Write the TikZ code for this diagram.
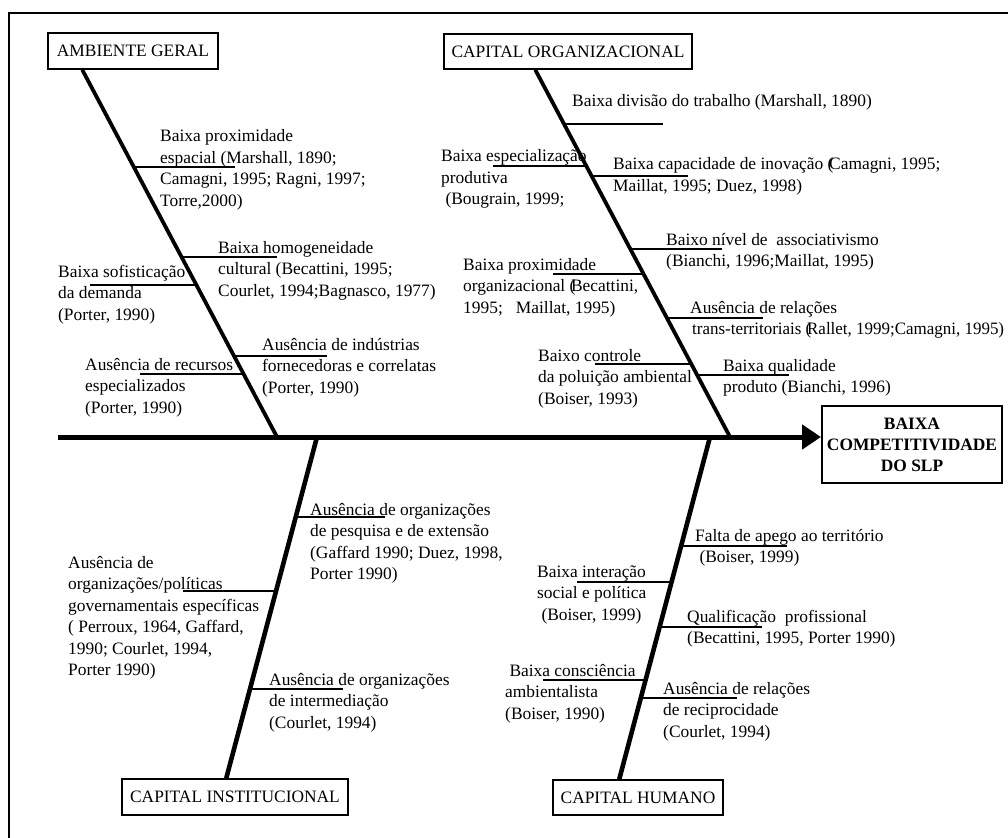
\documentclass[tikz,border=0pt]{standalone}
\usepackage{fontspec}
\usepackage{graphicx}
\setmainfont{Liberation Serif}
\usetikzlibrary{arrows.meta,calc}
\newcommand\mlines[1]{\begin{tabular}[t]{@{}l@{}}#1\end{tabular}}
\newcommand\pk{\kern-0.25em}
\tikzset{
  lab/.style={anchor=base west, inner sep=0pt, font=\fontsize{17.4}{21.5}\selectfont},
  catbox/.style={draw, line width=1.5pt, inner sep=0pt, font=\fontsize{17.4}{21.5}\selectfont},
  bone/.style={line width=3.8pt},
  lowbone/.style={line width=4.6pt},
  rib/.style={line width=1.1pt},
  frameline/.style={line width=2pt}
}
\begin{document}
\begin{tikzpicture}[x=1pt,y=-1pt]
\useasboundingbox (0,0) rectangle (1008,837);
% frame
\draw[frameline] (9,850) -- (9,13) -- (1020,13);

% category boxes
\node[catbox, minimum width=170pt, minimum height=36pt] (amb) at (133,51) {AMBIENTE GERAL};
\node[catbox, minimum width=248pt, minimum height=35pt] (org) at (568,51.5) {CAPITAL ORGANIZACIONAL};
\node[catbox, minimum width=226pt, minimum height=36pt] (inst) at (235,797) {CAPITAL INSTITUCIONAL};
\node[catbox, minimum width=170pt, minimum height=35pt] (hum) at (638,797.5) {CAPITAL HUMANO};
\node[catbox, line width=2pt, minimum width=180pt, minimum height=77pt, align=center,
      font=\fontsize{17.4}{21}\selectfont\bfseries] (res) at (912,444.5) {BAIXA\\COMPETITIVIDADE\\DO SLP};

% spine
\coordinate (sp0) at (58,437);
\draw[line width=5pt, -{Triangle[length=19pt,width=24pt]}] (sp0) -- (sp0 -| res.west);

% bones
\coordinate (s1) at (277,437);
\coordinate (s2) at (730,437);
\coordinate (s3) at (317,437);
\coordinate (s4) at (710,437);
\draw[bone] ($(amb.south west)+(35,0)$) -- (s1);
\draw[bone] ($(org.south west)+(92,0)$) -- (s2);
\draw[lowbone] (s3) -- ($(inst.north west)+(105,0)$);
\draw[lowbone] (s4) -- ($(hum.north west)+(67,0)$);

% ribs: AMBIENTE GERAL
\draw[rib] (134.7,167) -- (235,167);
\draw[rib] (182.1,257) -- (277,257);
\draw[rib] (90,285) -- (196.9,285);
\draw[rib] (234.3,356) -- (327,356);
\draw[rib] (140,374) -- (243.8,374);
% ribs: CAPITAL ORGANIZACIONAL
\draw[rib] (565,124) -- (663,124);
\draw[rib] (493,166) -- (587.1,166);
\draw[rib] (592.4,176) -- (688,176);
\draw[rib] (630.9,249) -- (722,249);
\draw[rib] (553,274) -- (644.1,274);
\draw[rib] (667.3,318) -- (763,318);
\draw[rib] (595,364) -- (691.5,364);
\draw[rib] (697.3,375) -- (789,375);
% ribs: CAPITAL INSTITUCIONAL
\draw[rib] (295.9,517) -- (385,517);
\draw[rib] (183,591) -- (276.5,591);
\draw[rib] (250.7,689) -- (343,689);
% ribs: CAPITAL HUMANO
\draw[rib] (681.4,546) -- (787,546);
\draw[rib] (577,582) -- (672,582);
\draw[rib] (660.1,627) -- (762,627);
\draw[rib] (543,680) -- (646.2,680);
\draw[rib] (641.5,698) -- (737,698);

% labels: AMBIENTE GERAL
\node[lab] (a1) at (160,142) {\mlines{Baixa proximidade\\espacial (Marshall, 1890;\\Camagni, 1995; Ragni, 1997;\\Torre,2000)}};
\node[lab] (a2) at (218,253) {\mlines{Baixa homogeneidade\\cultural (Becattini, 1995;\\Courlet, 1994;Bagnasco, 1977)}};
\node[lab] (a3) at (58,277) {\mlines{Baixa sofisticação\\da demanda\\(Porter, 1990)}};
\node[lab] (a4) at (262,350) {\mlines{Ausência de indústrias\\fornecedoras e correlatas\\(Porter, 1990)}};
\node[lab] (a5) at (85,370) {\mlines{Ausência de recursos\\especializados\\(Porter, 1990)}};

% labels: CAPITAL ORGANIZACIONAL
\node[lab] (o1) at (572,107) {Baixa divisão do trabalho (Marshall, 1890)};
\node[lab] (o2) at (441,162) {\mlines{Baixa especialização\\produtiva\\\ (Bougrain, 1999;}};
\node[lab] (o3) at (613,170) {\mlines{Baixa capacidade de inovação (\pk Camagni, 1995;\\Maillat, 1995; Duez, 1998)}};
\node[lab] (o4) at (666,245) {\mlines{Baixo nível de\ \ associativismo\\(Bianchi, 1996;Maillat, 1995)}};
\node[lab] (o5) at (463,270) {\mlines{Baixa proximidade\\organizacional (\pk Becattini,\\1995;\ \ \ Maillat, 1995)}};
\node[lab] (o6) at (690,313) {\mlines{Ausência de relações\\\hspace*{2pt}\scalebox{0.975}[1]{trans-territoriais (\pk Rallet, 1999;Camagni, 1995)}}};
\node[lab] (o7) at (538,361) {\mlines{Baixo controle\\da poluição ambiental\\(Boiser, 1993)}};
\node[lab] (o8) at (723,371) {\mlines{Baixa qualidade\\produto (Bianchi, 1996)}};

% labels: CAPITAL INSTITUCIONAL
\node[lab] (i1) at (310,515) {\mlines{Ausência de organizações\\de pesquisa e de extensão\\(Gaffard 1990; Duez, 1998,\\Porter 1990)}};
\node[lab] (i2) at (68,568) {\mlines{Ausência de\\organizações/políticas\\governamentais específicas\\( Perroux, 1964, Gaffard,\\1990; Courlet, 1994,\\Porter 1990)}};
\node[lab] (i3) at (269,685) {\mlines{Ausência de organizações\\de intermediação\\(Courlet, 1994)}};

% labels: CAPITAL HUMANO
\node[lab] (h1) at (695,541) {\mlines{Falta de apego ao território\\\ (Boiser, 1999)}};
\node[lab] (h2) at (537,577) {\mlines{Baixa interação\\social e política\\\ (Boiser, 1999)}};
\node[lab] (h3) at (687,622) {\mlines{Qualificação\ \ profissional\\(Becattini, 1995,\ Porter 1990)}};
\node[lab] (h4) at (505,676) {\mlines{\ Baixa consciência\\ambientalista\\(Boiser, 1990)}};
\node[lab] (h5) at (663,694) {\mlines{Ausência de relações\\de reciprocidade\\(Courlet, 1994)}};
\end{tikzpicture}
\end{document}
